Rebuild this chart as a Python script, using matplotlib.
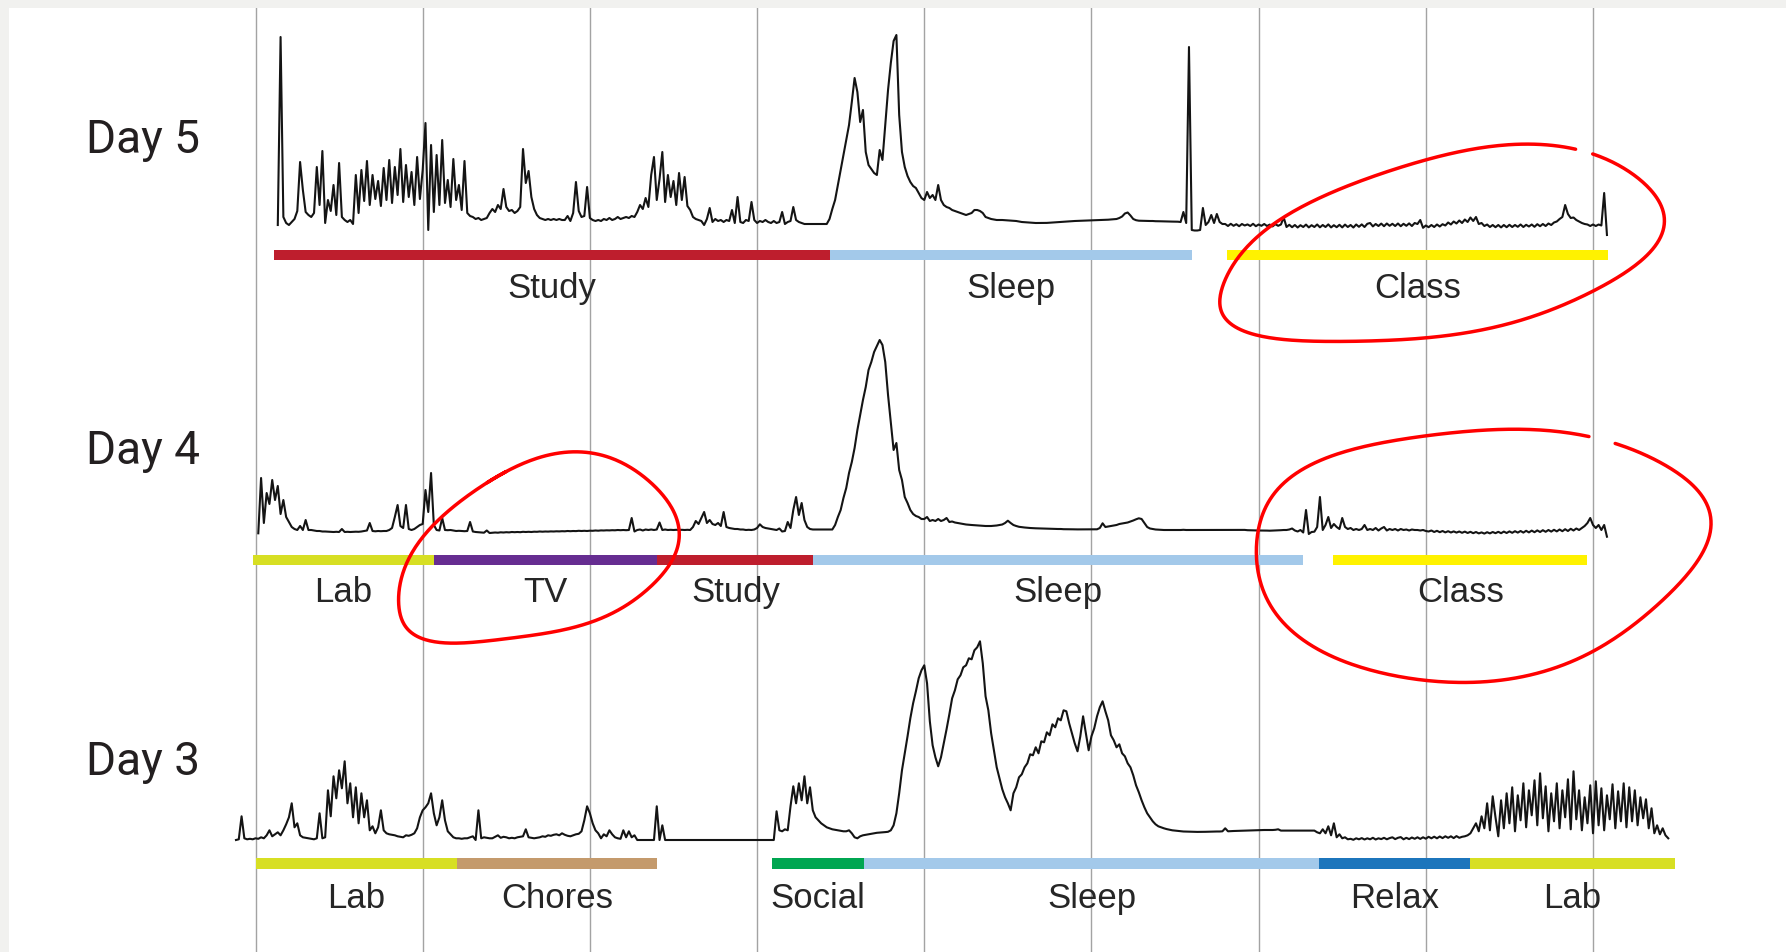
import numpy as np
import matplotlib.pyplot as plt

# EDA traces, one sample every 3 minutes, values in uS
SAMPLE_STEP = 0.05  # hours

day_names = ["Day 5", "Day 4", "Day 3"]

day5_start = 0.40
day5_eda = [
    1.0, 19.8, 1.8, 1.2, 1.0, 1.3, 1.6, 2.4, 7.3, 4.5, 2.3, 2.0, 1.8, 2.2, 6.8, 3.0, 8.4, 1.2, 3.5, 2.4,
    5.0, 2.0, 7.2, 1.8, 1.5, 1.3, 1.5, 1.1, 6.0, 2.2, 6.5, 3.4, 7.4, 3.0, 6.0, 3.6, 5.4, 2.9, 6.7, 3.5,
    7.5, 3.2, 6.8, 4.0, 8.6, 3.3, 7.0, 3.8, 6.3, 3.0, 7.8, 3.6, 6.5, 11.2, 0.5, 9.0, 2.3, 8.0, 3.0, 9.5,
    3.2, 5.5, 2.8, 7.6, 3.5, 5.0, 2.5, 7.4, 2.2, 1.9, 1.8, 1.6, 1.7, 1.5, 1.6, 1.7, 2.2, 2.6, 2.3, 3.0,
    2.6, 4.6, 2.8, 2.4, 2.5, 2.2, 2.4, 2.8, 8.6, 5.2, 6.4, 3.8, 2.6, 2.0, 1.7, 1.6, 1.5, 1.6, 1.5, 1.6,
    1.5, 1.6, 1.5, 1.5, 1.9, 1.4, 2.2, 5.3, 2.4, 1.8, 1.9, 4.8, 1.7, 1.5, 1.4, 1.5, 1.4, 1.6, 1.5, 1.7,
    1.5, 1.6, 1.8, 1.6, 1.7, 1.8, 1.7, 1.9, 1.8, 2.3, 3.0, 2.6, 3.7, 2.8, 6.0, 7.8, 3.5, 5.6, 8.3, 3.3,
    6.0, 3.8, 5.4, 3.0, 6.2, 3.5, 5.8, 2.9, 2.5, 1.8, 1.6, 1.5, 1.4, 1.0, 1.6, 2.7, 1.3, 1.6, 1.4, 1.5,
    1.3, 1.5, 1.4, 2.5, 1.2, 3.8, 1.3, 1.2, 1.5, 1.4, 3.3, 1.5, 1.2, 1.4, 1.3, 1.5, 1.3, 1.2, 1.4, 1.2,
    1.3, 2.3, 1.1, 1.3, 1.4, 2.8, 1.5, 1.3, 1.2, 1.1, 1.1, 1.1, 1.1, 1.1, 1.1, 1.1, 1.1, 1.1, 1.6, 2.6,
    3.5, 5.0, 6.5, 8.0, 9.5, 11.0, 13.3, 15.7, 14.3, 11.3, 12.5, 8.3, 7.0, 6.6, 6.2, 6.0, 8.5, 7.5, 11.0, 14.5,
    17.2, 19.4, 20.0, 12.0, 8.3, 6.8, 5.9, 5.3, 4.9, 4.7, 4.2, 3.7, 3.5, 4.3, 3.7, 4.0, 3.5, 5.0, 3.5, 3.0,
    2.8, 2.7, 2.5, 2.4, 2.3, 2.2, 2.1, 2.0, 2.1, 2.2, 2.5, 2.5, 2.4, 2.2, 1.8, 1.7, 1.6, 1.55, 1.5, 1.5,
    1.5, 1.48, 1.46, 1.44, 1.43, 1.4, 1.35, 1.3, 1.28, 1.27, 1.25, 1.22, 1.2, 1.2, 1.2, 1.2, 1.21, 1.23, 1.25, 1.28,
    1.3, 1.31, 1.33, 1.35, 1.37, 1.38, 1.4, 1.41, 1.42, 1.43, 1.44, 1.45, 1.46, 1.47, 1.48, 1.5, 1.5, 1.52, 1.53, 1.55,
    1.56, 1.6, 1.7, 1.85, 2.15, 2.25, 1.95, 1.6, 1.48, 1.43, 1.42, 1.4, 1.4, 1.4, 1.4, 1.38, 1.38, 1.37, 1.36, 1.35,
    1.35, 1.34, 1.34, 1.33, 1.3, 2.3, 1.2, 18.8, 0.5, 0.45, 0.45, 0.5, 2.7, 1.0, 1.3, 2.0, 1.2, 2.1, 1.3, 1.1,
    1.1, 0.9, 1.12, 0.92, 1.08, 0.88, 1.1, 0.95, 1.06, 0.9, 1.12, 0.88, 1.05, 0.92, 1.1, 0.9, 1.04, 0.86, 1.08, 0.92,
    1.05, 1.75, 0.8, 1.02, 0.78, 1.0, 0.75, 0.98, 0.8, 1.04, 0.76, 0.98, 0.8, 1.05, 0.77, 1.0, 0.8, 1.06, 0.76, 0.98,
    0.78, 1.02, 0.76, 1.04, 0.8, 1.0, 0.75, 1.05, 0.82, 1.06, 0.8, 1.12, 1.2, 0.86, 1.1, 0.9, 1.14, 0.88, 1.15, 0.92,
    1.12, 0.9, 1.15, 0.88, 1.12, 0.92, 1.16, 0.9, 1.2, 1.1, 1.5, 0.72, 0.95, 0.78, 1.0, 0.8, 1.05, 0.85, 1.08, 0.95,
    1.25, 1.05, 1.35, 1.15, 1.45, 1.2, 1.55, 1.3, 1.75, 1.4, 1.8, 1.1, 1.2, 0.9, 1.05, 0.8, 1.0, 0.78, 1.0, 0.76,
    1.0, 0.78, 1.02, 0.8, 1.0, 0.82, 1.05, 0.8, 1.02, 0.85, 1.05, 0.82, 1.08, 0.88, 1.1, 0.9, 1.15, 1.0, 1.25, 1.35,
    1.6, 1.8, 3.0, 2.1, 1.7, 1.75, 1.5, 1.35, 1.2, 1.1, 1.05, 0.9, 1.05, 0.9, 1.05, 0.95, 4.2, 0.0,
]

day4_start = 0.05
day4_eda = [
    0.67, 6.2, 1.7, 4.7, 3.6, 6.0, 4.0, 5.4, 2.6, 4.0, 2.3, 1.8, 1.3, 1.1, 1.0, 1.4, 1.0, 2.0, 1.0, 1.0,
    0.95, 0.9, 0.9, 0.85, 0.85, 0.83, 0.82, 0.8, 0.82, 0.8, 1.1, 0.8, 0.82, 0.8, 0.82, 0.83, 0.82, 0.85, 0.9, 0.95,
    1.7, 0.9, 0.87, 0.9, 0.88, 0.9, 0.9, 1.0, 1.2, 2.3, 3.5, 1.4, 1.2, 3.5, 1.1, 1.0, 1.1, 1.3, 1.5, 1.6,
    5.0, 2.8, 6.7, 1.5, 1.0, 0.95, 2.2, 1.0, 0.98, 1.0, 0.95, 0.9, 0.92, 0.9, 0.88, 0.9, 1.8, 0.85, 0.8, 0.78,
    0.75, 0.73, 0.95, 0.7, 0.72, 0.75, 0.73, 0.77, 0.75, 0.78, 0.76, 0.8, 0.78, 0.8, 0.78, 0.82, 0.8, 0.82, 0.8, 0.83,
    0.82, 0.85, 0.83, 0.85, 0.84, 0.86, 0.85, 0.87, 0.86, 0.88, 0.87, 0.9, 0.88, 0.9, 0.89, 0.92, 0.9, 0.92, 0.9, 0.93,
    0.92, 0.95, 0.93, 0.96, 0.95, 0.97, 0.96, 0.98, 0.97, 1.0, 0.98, 1.0, 0.98, 1.0, 2.2, 0.85, 1.0, 1.05, 0.95, 1.05,
    1.0, 1.05, 1.0, 1.05, 1.75, 1.0, 1.05, 1.0, 1.02, 1.0, 1.02, 1.0, 1.02, 1.0, 1.02, 1.0, 1.3, 1.9, 1.6, 2.2,
    2.8, 1.7, 2.0, 1.6, 1.5, 1.7, 1.4, 2.8, 1.3, 1.2, 1.15, 1.1, 1.1, 1.05, 1.05, 1.0, 1.02, 1.0, 1.05, 1.2,
    1.57, 1.3, 1.2, 1.15, 1.1, 1.05, 1.0, 1.15, 0.85, 0.9, 1.8, 1.2, 3.0, 4.3, 2.5, 3.7, 2.0, 1.3, 1.1, 1.05,
    1.05, 1.05, 1.05, 1.05, 1.05, 1.05, 1.05, 1.5, 2.3, 3.0, 4.2, 5.2, 6.7, 7.8, 9.2, 11.0, 12.5, 14.0, 15.3, 17.0,
    17.8, 18.8, 19.4, 20.0, 19.5, 17.8, 14.5, 11.7, 9.0, 9.7, 7.0, 6.0, 4.3, 3.7, 3.0, 2.6, 2.4, 2.3, 2.1, 2.1,
    2.3, 1.9, 2.0, 1.9, 2.1, 1.9, 2.0, 2.2, 1.8, 1.85, 1.75, 1.7, 1.65, 1.6, 1.55, 1.52, 1.5, 1.48, 1.45, 1.43,
    1.42, 1.4, 1.4, 1.4, 1.42, 1.45, 1.5, 1.55, 1.7, 1.93, 1.7, 1.5, 1.4, 1.32, 1.28, 1.25, 1.22, 1.2, 1.18, 1.17,
    1.16, 1.15, 1.14, 1.13, 1.12, 1.11, 1.1, 1.1, 1.1, 1.08, 1.08, 1.07, 1.07, 1.06, 1.06, 1.06, 1.06, 1.06, 1.06, 1.06,
    1.06, 1.07, 1.2, 1.67, 1.3, 1.35, 1.4, 1.45, 1.5, 1.6, 1.65, 1.7, 1.75, 1.85, 1.95, 2.07, 2.17, 2.1, 1.7, 1.3,
    1.15, 1.1, 1.05, 1.03, 1.02, 1.0, 1.0, 1.01, 1.0, 1.0, 1.01, 1.0, 1.02, 1.0, 1.0, 1.01, 1.0, 1.0, 1.01, 1.0,
    1.0, 1.01, 1.0, 1.0, 1.01, 1.0, 1.0, 1.01, 1.0, 1.0, 1.01, 1.0, 1.0, 1.0, 1.01, 0.98, 0.97, 0.96, 0.96, 0.95,
    0.95, 0.94, 0.94, 0.93, 0.94, 0.95, 0.96, 0.98, 1.0, 1.0, 1.05, 1.15, 0.95, 0.85, 1.0, 0.75, 3.0, 0.6, 0.8, 0.83,
    1.3, 4.3, 1.0, 1.5, 2.3, 1.2, 1.6, 1.3, 1.1, 2.2, 1.3, 1.1, 1.2, 1.0, 1.1, 1.0, 1.1, 1.5, 1.0, 1.1,
    1.0, 1.2, 0.95, 1.15, 1.3, 0.95, 1.1, 1.0, 1.1, 0.95, 1.1, 1.0, 1.05, 0.95, 1.05, 1.0, 1.0, 0.95, 1.0, 0.9,
    0.85, 0.95, 0.8, 0.92, 0.78, 0.9, 0.76, 0.88, 0.75, 0.86, 0.74, 0.85, 0.72, 0.84, 0.7, 0.82, 0.68, 0.8, 0.66, 0.76,
    0.64, 0.78, 0.66, 0.8, 0.68, 0.82, 0.68, 0.84, 0.7, 0.86, 0.72, 0.88, 0.74, 0.9, 0.74, 0.92, 0.76, 0.94, 0.78, 0.96,
    0.8, 0.98, 0.82, 1.0, 0.84, 1.02, 0.86, 1.05, 0.88, 1.08, 0.9, 1.12, 0.95, 1.15, 1.0, 1.2, 1.4, 1.7, 2.2, 1.5,
    1.2, 1.5, 1.0, 1.5, 0.33,
]

day3_start = -0.35
day3_eda = [
    0.33, 0.4, 2.7, 0.5, 0.4, 0.45, 0.4, 0.5, 0.45, 0.6, 0.5, 0.8, 1.3, 0.7, 0.9, 1.1, 0.8, 1.3, 1.9, 2.6,
    4.0, 1.6, 2.0, 0.8, 0.6, 0.55, 0.5, 0.45, 0.4, 0.5, 3.0, 0.5, 0.6, 5.3, 2.7, 6.7, 4.5, 7.3, 5.5, 8.2,
    4.0, 6.0, 2.6, 5.6, 2.0, 5.0, 2.6, 4.3, 1.3, 1.7, 1.0, 1.6, 3.3, 1.3, 1.0, 0.9, 0.85, 0.8, 0.7, 0.65,
    0.6, 0.8, 0.75, 0.85, 1.0, 1.5, 2.6, 3.3, 3.6, 4.0, 5.0, 3.0, 1.8, 2.6, 4.3, 2.3, 1.2, 0.9, 0.6, 0.5,
    0.5, 0.45, 0.5, 0.5, 0.6, 0.7, 0.33, 3.3, 0.5, 0.6, 0.55, 0.5, 0.5, 0.65, 0.8, 0.55, 0.65, 0.6, 0.5, 0.55,
    0.5, 0.6, 0.65, 0.7, 1.4, 0.6, 0.55, 0.5, 0.55, 0.6, 0.7, 0.65, 0.8, 0.75, 0.85, 0.9, 0.8, 1.0, 0.85, 0.75,
    0.7, 0.8, 0.9, 0.95, 1.2, 2.3, 3.7, 3.0, 2.0, 1.3, 1.0, 0.5, 0.9, 0.7, 1.3, 0.9, 0.6, 0.5, 0.45, 1.3,
    0.6, 1.2, 0.6, 0.8, 0.33, 0.33, 0.33, 0.33, 0.33, 0.33, 0.33, 3.7, 0.33, 1.8, 0.33, 0.33, 0.33, 0.33, 0.33, 0.33,
    0.33, 0.33, 0.33, 0.33, 0.33, 0.33, 0.33, 0.33, 0.33, 0.33, 0.33, 0.33, 0.33, 0.33, 0.33, 0.33, 0.33, 0.33, 0.33, 0.33,
    0.33, 0.33, 0.33, 0.33, 0.33, 0.33, 0.33, 0.33, 0.33, 0.33, 0.33, 0.33, 0.33, 0.33, 3.2, 1.3, 1.2, 1.4, 1.3, 3.7,
    5.7, 4.0, 6.0, 4.3, 6.7, 4.0, 5.6, 3.3, 2.6, 2.3, 2.0, 1.8, 1.6, 1.5, 1.4, 1.35, 1.3, 1.25, 1.2, 1.2,
    1.3, 1.0, 0.6, 0.5, 0.7, 0.8, 0.85, 0.9, 0.95, 1.0, 1.05, 1.07, 1.1, 1.12, 1.15, 1.3, 1.8, 3.0, 5.0, 7.3,
    9.0, 10.7, 12.5, 14.0, 15.2, 16.5, 17.3, 17.8, 16.0, 12.2, 9.8, 8.6, 7.7, 8.6, 10.0, 11.4, 12.9, 14.5, 15.3, 16.4,
    16.8, 17.6, 17.8, 18.5, 18.4, 19.3, 19.6, 20.2, 18.0, 14.7, 13.3, 11.0, 9.3, 7.6, 6.5, 5.4, 4.6, 4.0, 3.3, 5.0,
    5.6, 6.6, 6.9, 7.6, 8.0, 8.9, 8.8, 9.6, 9.0, 10.2, 10.1, 11.1, 10.8, 11.9, 11.6, 12.5, 12.3, 13.3, 13.2, 12.0,
    11.0, 10.0, 9.2, 10.7, 12.7, 11.0, 9.3, 10.7, 11.5, 12.7, 13.6, 14.2, 13.2, 12.3, 10.8, 10.3, 9.6, 9.9, 9.0, 8.7,
    8.0, 7.6, 6.8, 5.8, 5.1, 4.3, 3.6, 3.0, 2.6, 2.2, 1.9, 1.7, 1.6, 1.5, 1.42, 1.36, 1.3, 1.27, 1.24, 1.2,
    1.18, 1.17, 1.16, 1.15, 1.15, 1.14, 1.14, 1.15, 1.15, 1.16, 1.17, 1.17, 1.18, 1.18, 1.2, 1.5, 1.2, 1.22, 1.23, 1.24,
    1.25, 1.26, 1.27, 1.28, 1.3, 1.3, 1.32, 1.33, 1.33, 1.33, 1.33, 1.33, 1.33, 1.35, 1.4, 1.27, 1.27, 1.27, 1.27, 1.27,
    1.27, 1.27, 1.27, 1.27, 1.27, 1.27, 1.27, 1.27, 1.1, 1.0, 1.4, 1.0, 1.7, 0.8, 2.0, 0.6, 0.9, 0.5, 0.6, 0.4,
    0.45, 0.35, 0.5, 0.4, 0.52, 0.38, 0.5, 0.4, 0.55, 0.38, 0.5, 0.42, 0.55, 0.4, 0.52, 0.6, 0.42, 0.55, 0.62, 0.4,
    0.55, 0.42, 0.58, 0.45, 0.6, 0.44, 0.6, 0.46, 0.65, 0.5, 0.66, 0.5, 0.68, 0.52, 0.7, 0.55, 0.7, 0.52, 0.72, 0.55,
    0.65, 0.7, 0.8, 1.0, 1.5, 2.0, 1.2, 2.7, 1.5, 4.0, 1.3, 4.7, 2.6, 0.7, 4.3, 1.5, 5.0, 2.0, 5.6, 1.2,
    4.8, 2.3, 6.0, 1.6, 5.3, 2.8, 6.3, 1.8, 7.0, 2.5, 5.7, 1.2, 5.0, 2.2, 6.0, 1.5, 5.3, 2.6, 6.4, 1.4,
    7.2, 2.4, 5.3, 1.3, 4.6, 2.0, 5.8, 1.0, 6.2, 1.8, 5.5, 1.3, 4.8, 2.4, 5.9, 1.5, 5.2, 2.2, 6.0, 1.6,
    5.6, 2.2, 5.3, 1.8, 4.6, 2.5, 4.4, 1.5, 3.5, 1.0, 1.8, 0.9, 1.5, 0.8, 0.5,
]

# activity bars: (label, start hour, end hour)
day5_activities = [("Study", 0.34, 10.30), ("Sleep", 10.30, 16.80), ("Class", 17.44, 24.27)]
day4_activities = [("Lab", -0.05, 3.21), ("TV", 3.21, 7.21), ("Study", 7.21, 10.01),
                   ("Sleep", 10.01, 18.80), ("Class", 19.34, 23.90)]
day3_activities = [("Lab", 0.0, 3.62), ("Chores", 3.62, 7.21), ("Social", 9.27, 10.92),
                   ("Sleep", 10.92, 19.09), ("Relax", 19.09, 21.79), ("Lab", 21.79, 25.47)]

grid_hours = [0, 3, 6, 9, 12, 15, 18, 21, 24]

activity_colors = {
    "Study": "#be1e2d", "Sleep": "#a3c9ea", "Class": "#fff200", "Lab": "#d7df23",
    "TV": "#662d91", "Chores": "#c49a6c", "Social": "#00a651", "Relax": "#1c75bc",
}

# ---- layout (pixels of the 1786x952 canvas) ----
W, H = 1786, 952
G0 = 255.5          # x pixel of hour 0
PPH = 55.73         # pixels per hour
PPU = 10.0          # pixels per uS
YLO, YHI = -10, 22
BAR_Y, BAR_H = -2.0, 1.05

rows = [
    # name, start, eda, activities, zero-line pixel, label baseline, name baseline px
    ("Day 5", day5_start, day5_eda, day5_activities, 235.0, -6.25, 152.7),
    ("Day 4", day4_start, day4_eda, day4_activities, 540.0, -6.2, 464.0),
    ("Day 3", day3_start, day3_eda, day3_activities, 843.3, -6.5, 775.0),
]

# hand drawn red loops: row, cx, cy, rx, ry, tilt, sag, skew, start deg, sweep deg
loops = [
    ("Day 5", 21.25, -0.9, 3.8, 9.8, 1.1, 1.5, 1.2, 70, 354),
    ("Day 4", 5.05, -0.65, 2.5, 9.15, 2.25, 2.3, 0.3, 110, 368),
    ("Day 4", 21.98, -1.68, 4.0, 12.6, -1.15, -2.15, 0.8, 73, 352),
]

xlim = ((0 - G0) / PPH, (W - G0) / PPH)

fig = plt.figure(figsize=(W / 100, H / 100), dpi=100, facecolor="#f1f1ef")

bg = fig.add_axes([9 / W, 0, 1 - 9 / W, 1 - 8 / H])
bg.set_facecolor("white")
bg.set_xlim((9 - G0) / PPH, (W - G0) / PPH)
bg.set_ylim(0, 1)
bg.set_xticks([])
bg.set_yticks([])
for s in bg.spines.values():
    s.set_visible(False)
for h in grid_hours:
    bg.axvline(h, color="#a3a3a3", lw=1.0)

axes = {}
for name, start, eda, acts, zero_px, lab_y, name_px in rows:
    bottom_px = zero_px - YLO * PPU
    height_px = (YHI - YLO) * PPU
    ax = fig.add_axes([0, 1 - bottom_px / H, 1, height_px / H])
    ax.set_xlim(*xlim)
    ax.set_ylim(YLO, YHI)
    ax.axis("off")
    axes[name] = ax

    t = start + SAMPLE_STEP * np.arange(len(eda))
    ax.plot(t, eda, color="#141414", lw=1.5)

    for label, s, e in acts:
        ax.broken_barh([(s, e - s)], (BAR_Y - BAR_H / 2, BAR_H),
                       facecolors=activity_colors[label], edgecolor="none")
        ax.text((s + e) / 2, lab_y, label, ha="center", va="baseline",
                fontsize=25, family="Liberation Sans", color="#262626")

    fig.text(86 / W, 1 - name_px / H, name, ha="left", va="baseline",
             fontsize=33, family="Roboto", color="#231f20")

for name, cx, cy, rx, ry, tilt, sag, skew, a0, sweep in loops:
    th = np.radians(np.linspace(a0, a0 + sweep, 400))
    wob = 1 + 0.015 * np.sin(5 * th + 0.7)
    x = cx + rx * np.cos(th) * wob + skew * np.sin(th)
    y = cy + ry * np.sin(th) * wob + tilt * np.cos(th) - sag * np.cos(th) ** 2
    axes[name].plot(x, y, color="#ff0000", lw=2.5, clip_on=False,
                    solid_capstyle="round")

fig.savefig("out.png", dpi=100, facecolor=fig.get_facecolor())
